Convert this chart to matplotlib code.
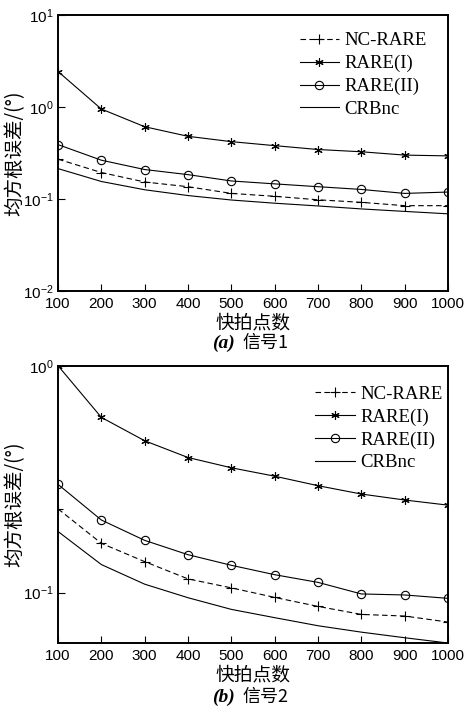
import matplotlib
matplotlib.use("Agg")
import matplotlib.pyplot as plt
from matplotlib.ticker import LogLocator, NullLocator, LogFormatterSciNotation

plt.rcParams['font.family'] = ['Liberation Sans', 'Noto Sans CJK SC']
plt.rcParams['mathtext.fontset'] = 'custom'
plt.rcParams['mathtext.rm'] = 'Liberation Sans'

snapshots = [100, 200, 300, 400, 500, 600, 700, 800, 900, 1000]
names = ["NC-RARE", "RARE(I)", "RARE(II)", "CRBnc"]

# signal 1
nc_rare_1 = [0.271, 0.194, 0.153, 0.136, 0.115, 0.107, 0.098, 0.092, 0.0846, 0.0846]
rare1_1 = [2.43, 0.95, 0.61, 0.48, 0.42, 0.38, 0.345, 0.326, 0.30, 0.294]
rare2_1 = [0.39, 0.264, 0.209, 0.184, 0.157, 0.146, 0.136, 0.127, 0.115, 0.119]
crb_1 = [0.214, 0.155, 0.126, 0.109, 0.0975, 0.090, 0.084, 0.078, 0.0733, 0.069]

# signal 2
nc_rare_2 = [0.234, 0.165, 0.137, 0.115, 0.105, 0.0953, 0.087, 0.0802, 0.0789, 0.0742]
rare1_2 = [1.0, 0.592, 0.467, 0.394, 0.355, 0.326, 0.296, 0.272, 0.256, 0.243]
rare2_2 = [0.30, 0.209, 0.170, 0.147, 0.132, 0.120, 0.111, 0.0987, 0.0977, 0.0944]
crb_2 = [0.186, 0.133, 0.109, 0.095, 0.0844, 0.0776, 0.0715, 0.067, 0.0633, 0.060]

fig = plt.figure(figsize=(4.66, 7.06), dpi=100)
ax1 = fig.add_axes([0.1245, 0.5878, 0.837, 0.391])
ax2 = fig.add_axes([0.1245, 0.0892, 0.837, 0.3928])

cjk = 'Noto Sans CJK SC'
serif = 'Liberation Serif'


def draw(ax, nc, r1, r2, crb, ylim, leg_anchor):
    ax.plot(snapshots, nc, color='black', lw=0.8, ls=(0, (5, 3)),
            marker='+', ms=6.5, mew=0.8, label=names[0])
    ax.plot(snapshots, r1, color='black', lw=0.8, marker=(6, 2, 0), ms=6,
            mew=0.8, label=names[1])
    ax.plot(snapshots, r2, color='black', lw=0.8, marker='o', ms=6,
            mfc='none', mew=0.8, label=names[2])
    ax.plot(snapshots, crb, color='black', lw=0.8, label=names[3])
    ax.set_yscale('log')
    ax.set_xlim(100, 1000)
    ax.set_ylim(*ylim)
    ax.set_xticks(snapshots)
    ax.yaxis.set_major_locator(LogLocator(base=10, subs=(1.0,)))
    ax.yaxis.set_major_formatter(LogFormatterSciNotation())
    ax.yaxis.set_minor_locator(NullLocator())
    ax.tick_params(direction='in', length=5, width=0.8, labelsize=11,
                   pad=3)
    ax.tick_params(axis='x', pad=4.5)
    for s in ax.spines.values():
        s.set_linewidth(1.4)
    ax.set_xlabel('快拍点数', fontsize=13.5, family=cjk, labelpad=1)
    ax.set_ylabel('均方根误差/(°)', fontsize=14, family=cjk)
    ax.yaxis.set_label_coords(-0.083, 0.5)
    ax.legend(loc='upper right', bbox_to_anchor=leg_anchor, frameon=False,
              prop={'family': serif, 'size': 13.5}, handlelength=2.1,
              handletextpad=0.3, labelspacing=0.3, borderaxespad=0)


draw(ax1, nc_rare_1, rare1_1, rare2_1, crb_1, (0.01, 10), (0.965, 0.965))
draw(ax2, nc_rare_2, rare1_2, rare2_2, crb_2, (0.06, 1.0), (1.005, 0.955))

# captions under each panel
fig.text(0.456, 1 - 343 / 706, '(a)', family=serif, weight='bold',
         style='italic', fontsize=14, ha='left', va='center')
fig.text(0.52, 1 - 343 / 706, '信号1', family=cjk, fontsize=13,
         ha='left', va='center')
fig.text(0.456, 1 - 697 / 706, '(b)', family=serif, weight='bold',
         style='italic', fontsize=14, ha='left', va='center')
fig.text(0.52, 1 - 697 / 706, '信号2', family=cjk, fontsize=13,
         ha='left', va='center')

fig.savefig('out.png', dpi=100)
